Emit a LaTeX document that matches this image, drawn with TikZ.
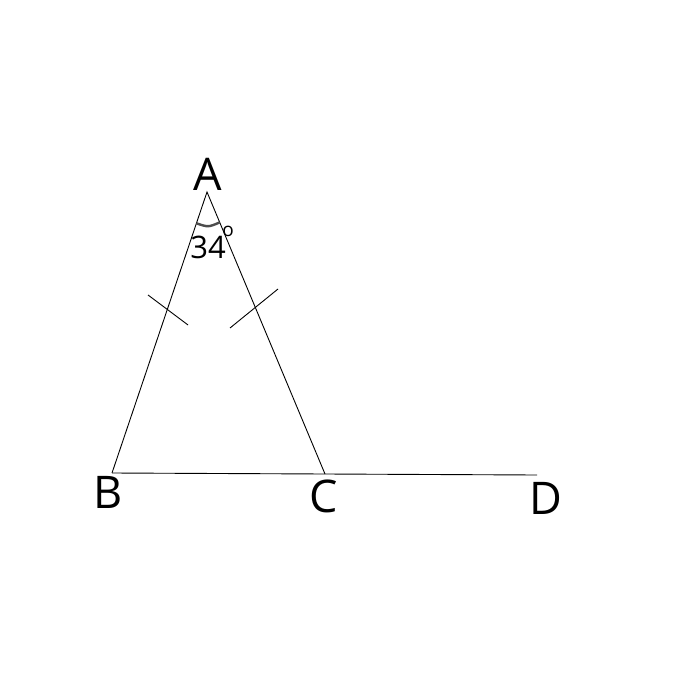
\documentclass[tikz,border=0pt]{standalone}
\usepackage{fontspec}
\setmainfont{Open Sans}
\begin{document}
\begin{tikzpicture}[x=1pt,y=-1pt,
  lbl/.style={font=\fontsize{45}{45}\selectfont, inner sep=0pt, anchor=center},
  edge/.style={line width=0.9pt, black},
  tick/.style={line width=0.9pt, black},
  anglearc/.style={line width=2.4pt, black!70}]
\useasboundingbox (0,0) rectangle (700,700);
\fill[white] (0,0) rectangle (700,700);
\coordinate (A) at (207,192);
\coordinate (B) at (112,473);
\coordinate (C) at (325,474);
\coordinate (D) at (537,475);
\coordinate (t1a) at (148,295);
\coordinate (t1b) at (188,325);
\coordinate (t2a) at (230,328);
\coordinate (t2b) at (278,289);
\coordinate (arcL) at (196.4,223.3);
\coordinate (arcC) at (208.2,227.3);
\coordinate (arcR) at (219.7,222.4);
\draw[edge] (B) -- (A) -- (C);
\draw[edge] (B) -- (C) -- (D);
\draw[tick] (t1a) -- (t1b);
\draw[tick] (t2a) -- (t2b);
\draw[anglearc] (arcL) .. controls (arcC) .. (arcR);
\node[lbl] (lA) at (208,174) {A};
\node[lbl] (lB) at (108,492) {B};
\node[lbl] (lC) at (324,496) {C};
\node[lbl] (lD) at (546,498) {D};
\node[font=\fontsize{31}{31}\selectfont, inner sep=0pt] (ang) at (208,247) {34};
\node[font=\fontsize{19}{19}\selectfont, inner sep=0pt] (deg) at (228,231) {o};
\end{tikzpicture}
\end{document}
